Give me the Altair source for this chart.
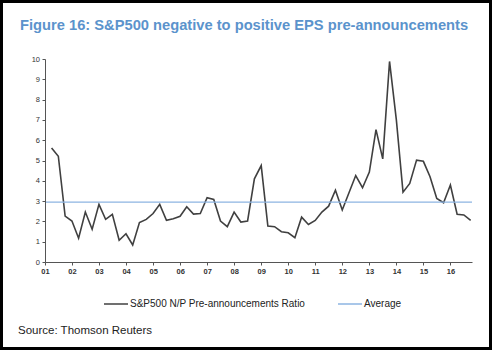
import altair as alt
import pandas as pd

TITLE = "Figure 16: S&P500 negative to positive EPS pre-announcements"
SOURCE = "Source: Thomson Reuters"
SERIES_RATIO = "S&P500 N/P Pre-announcements Ratio"
SERIES_AVG = "Average"

# quarter ends, 2001Q1 .. 2016Q3
QUARTER_END_DAYS = ["03/31", "06/30", "09/30", "12/31"]
YEARS = list(range(2001, 2017))
QUARTERS = [f"{y}/{d}" for y in YEARS for d in QUARTER_END_DAYS][:63]

RATIO = [
    5.62, 5.21, 2.26,
    2.02, 1.17, 2.46, 1.61,
    2.84, 2.10, 2.35, 1.07,
    1.39, 0.84, 1.94, 2.10,
    2.39, 2.84, 2.05, 2.13,
    2.25, 2.72, 2.36, 2.39,
    3.17, 3.08, 2.02, 1.74,
    2.46, 1.97, 2.02, 4.10,
    4.75, 1.77, 1.74, 1.49,
    1.44, 1.20, 2.21, 1.85,
    2.05, 2.46, 2.75, 3.54,
    2.56, 3.41, 4.26, 3.66,
    4.43, 6.52, 5.08, 9.88,
    7.00, 3.44, 3.87, 5.02,
    4.96, 4.20, 3.13, 2.92,
    3.79, 2.35, 2.32, 2.05,
]
AVERAGE = 2.95
AVG_SPAN = ["2001/01/01", "2016/10/18"]
X_TICK_YEARS = list(range(2001, 2017))
Y_TICKS = list(range(0, 11))

ratio_df = pd.DataFrame({"date": QUARTERS, "value": RATIO, "series": SERIES_RATIO})
avg_df = pd.DataFrame({"date": AVG_SPAN, "value": [AVERAGE, AVERAGE], "series": SERIES_AVG})

FONT = "Liberation Sans"

color = alt.Color(
    "series:N",
    scale=alt.Scale(domain=[SERIES_RATIO, SERIES_AVG], range=["#404040", "#8db4e2"]),
    legend=alt.Legend(
        title=None, orient="none", legendX=58, legendY=232, direction="horizontal",
        symbolType="stroke", symbolSize=576, symbolStrokeWidth=1.5,
        labelFontSize=10, labelFont=FONT, labelColor="#222222", labelLimit=0,
        columnPadding=29, labelOffset=1, zindex=1,
    ),
)

x = alt.X(
    "date:T",
    scale=alt.Scale(domain=[alt.DateTime(year=2001, month=1, date=1),
                            alt.DateTime(year=2016, month=10, date=18)], nice=False),
    axis=alt.Axis(
        title=None, format="%y",
        values=[alt.DateTime(year=y, month=1, date=1) for y in X_TICK_YEARS],
        labelFontSize=7.5, labelFont=FONT, labelFontWeight="bold", labelColor="#333333",
        tickSize=3, labelPadding=2, domainColor="#555555", tickColor="#555555",
        grid=False, zindex=1, labelFlush=False, labelOverlap=False,
    ),
)
y = alt.Y(
    "value:Q",
    scale=alt.Scale(domain=[0, 10], nice=False),
    axis=alt.Axis(
        title=None, values=Y_TICKS,
        labelFontSize=7.5, labelFont=FONT, labelColor="#333333",
        tickSize=3, labelPadding=2.5, domainColor="#555555", tickColor="#555555",
        grid=False, zindex=1, labelFlush=False,
    ),
)

frame = alt.Chart(pd.DataFrame({"a": [0]})).mark_rect(color="white", clip=False).encode(
    x=alt.value(-42), x2=alt.value(444), y=alt.value(-56), y2=alt.value(288)
)

ratio_line = alt.Chart(ratio_df).mark_line(strokeWidth=1.6, clip=False).encode(
    x=x, y=y, color=color
)
avg_line = alt.Chart(avg_df).mark_line(strokeWidth=1.1, clip=False).encode(
    x=x, y=y, color=color
)

title = alt.Chart(pd.DataFrame({"t": [TITLE]})).mark_text(
    align="left", baseline="alphabetic", font=FONT, fontSize=14.7,
    fontWeight="bold", color="#5b93cc",
).encode(text="t:N", x=alt.value(-25), y=alt.value(-29))

source = alt.Chart(pd.DataFrame({"t": [SOURCE]})).mark_text(
    align="left", baseline="alphabetic", font=FONT, fontSize=11.5, color="#222222",
).encode(text="t:N", x=alt.value(-27), y=alt.value(274.5))

chart = alt.layer(frame, ratio_line, avg_line, title, source).properties(
    width=427, height=203,
    autosize=alt.AutoSizeParams(type="none"),
    padding={"left": 45, "top": 59, "right": 20, "bottom": 88},
    background="black",
).configure_view(stroke=None)

chart.save("out.html", embed_options={"renderer": "svg", "actions": False})
